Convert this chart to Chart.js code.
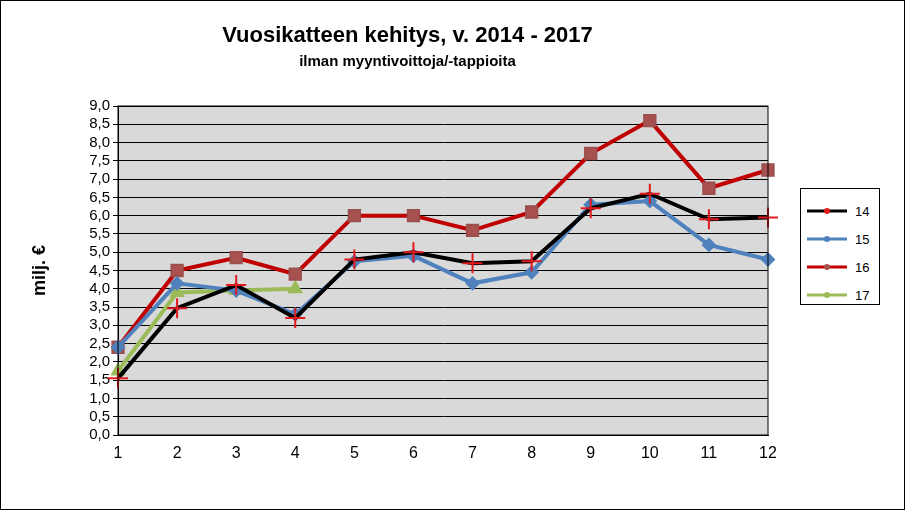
<!DOCTYPE html>
<html lang="fi">
<head>
  <meta charset="UTF-8" />
  <script src="https://cdn.jsdelivr.net/npm/chart.js"></script>
  <style>
    * { margin: 0; padding: 0; box-sizing: border-box; }
    body { width: 905px; height: 510px; background: #fff; font-family: Arial, 'Liberation Sans', sans-serif; position: relative; overflow: hidden; }
    #wrap { position: absolute; left: 0; top: 0; width: 905px; height: 510px; border: 1px solid #000; }
    h1 { position: absolute; top: 22px; left: 0; width: 815px; text-align: center; font-size: 22px; font-weight: bold; }
    h2 { position: absolute; top: 52px; left: 0; width: 815px; text-align: center; font-size: 15px; font-weight: bold; }
    #legend { position: absolute; left: 800px; top: 188px; width: 80px; height: 117px; border: 1px solid #000; background: #fff; padding: 8px 0 0 6px; }
    .item { display: flex; align-items: center; height: 28px; font-size: 13px; }
    .item svg { margin-right: 8px; }
  </style>
</head>
<body>
  <div id="wrap">
    <canvas id="grafico" width="905" height="510"></canvas>
  </div>
  <h1>Vuosikatteen kehitys, v. 2014 - 2017</h1>
  <h2>ilman myyntivoittoja/-tappioita</h2>
  <div id="legend"></div>

  <script>
    // Data
    const kuukaudet = ['1', '2', '3', '4', '5', '6', '7', '8', '9', '10', '11', '12'];
    const v14 = [1.55, 3.47, 4.1, 3.2, 4.8, 5.0, 4.7, 4.75, 6.2, 6.6, 5.9, 5.95];
    const v15 = [2.4, 4.15, 3.95, 3.3, 4.75, 4.9, 4.15, 4.45, 6.3, 6.4, 5.2, 4.8];
    const v16 = [2.4, 4.5, 4.85, 4.4, 6.0, 6.0, 5.6, 6.1, 7.7, 8.6, 6.75, 7.25];
    const v17 = [1.75, 3.9, 3.95, 4.0];

    const sarjat = [
      { label: '14', data: v14, borderColor: '#000000', pointStyle: 'cross', pointBorderColor: '#e31a1c', pointBackgroundColor: '#e31a1c', pointRadius: 10 },
      { label: '15', data: v15, borderColor: '#4f81bd', pointStyle: 'rectRot', pointBorderColor: '#4f81bd', pointBackgroundColor: '#4f81bd', pointRadius: 6 },
      { label: '16', data: v16, borderColor: '#c00000', pointStyle: 'rect', pointBorderColor: '#9b4f4f', pointBackgroundColor: '#a9514f', pointRadius: 8 },
      { label: '17', data: v17, borderColor: '#9bbb59', pointStyle: 'triangle', pointBorderColor: '#9bbb59', pointBackgroundColor: '#9bbb59', pointRadius: 7 },
    ];

    // Legend (HTML)
    const legend = document.getElementById('legend');
    sarjat.forEach(s => {
      legend.innerHTML += `<div class="item"><svg width="40" height="10"><line x1="0" y1="5" x2="40" y2="5" stroke="${s.borderColor}" stroke-width="3"/><circle cx="20" cy="5" r="3" fill="${s.pointBackgroundColor}"/></svg>${s.label}</div>`;
    });

    // Plot area background + border
    const plotBg = {
      id: 'plotBg',
      beforeDraw(chart) {
        const { ctx, chartArea: a } = chart;
        ctx.save();
        ctx.fillStyle = '#d9d9d9';
        ctx.fillRect(a.left, a.top, a.right - a.left, a.bottom - a.top);
        ctx.restore();
      },
      afterDatasetsDraw(chart) {
        const { ctx, chartArea: a } = chart;
        ctx.save();
        ctx.strokeStyle = '#000';
        ctx.lineWidth = 1;
        ctx.strokeRect(a.left, a.top, a.right - a.left, a.bottom - a.top);
        ctx.restore();
      }
    };

    new Chart(document.getElementById('grafico'), {
      type: 'line',
      data: {
        labels: kuukaudet,
        datasets: sarjat.map(s => Object.assign({ borderWidth: 4, tension: 0, pointBorderWidth: 2 }, s)),
      },
      options: {
        responsive: false,
        animation: false,
        devicePixelRatio: 1,
        layout: { padding: { left: 28, right: 138, top: 105, bottom: 36 } },
        plugins: { legend: { display: false }, tooltip: { enabled: false } },
        scales: {
          x: {
            offset: false,
            afterFit: s => { s.height = 40; },
            grid: { display: false, drawTicks: true, tickLength: 6, tickColor: '#000' },
            border: { color: '#000' },
            ticks: { color: '#000', font: { size: 16, family: 'Arial' } },
          },
          y: {
            min: 0, max: 9,
            afterFit: s => { s.width = 89; },
            ticks: { stepSize: 0.5, autoSkip: false, color: '#000', font: { size: 15, family: 'Arial' }, callback: v => v.toFixed(1).replace('.', ',') },
            grid: { color: '#000', tickLength: 5 },
            border: { color: '#000' },
            title: { display: true, text: 'milj. €', color: '#000', padding: 0, font: { size: 18, weight: 'bold', family: 'Arial' } },
          },
        },
      },
      plugins: [plotBg],
    });
  </script>
</body>
</html>
